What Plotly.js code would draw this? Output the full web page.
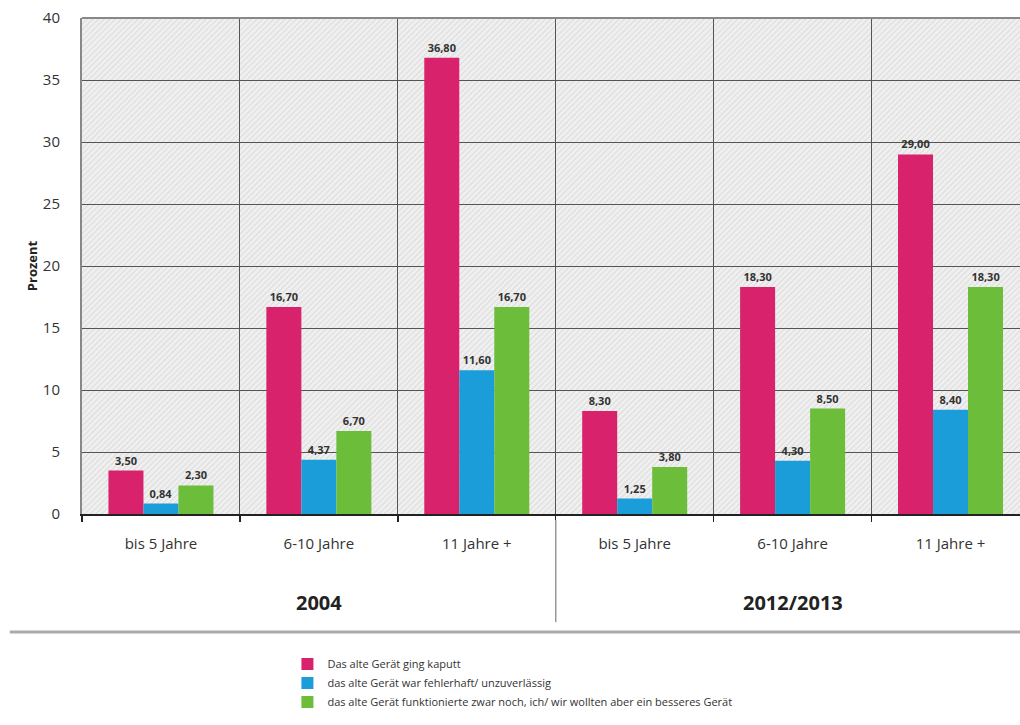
<!DOCTYPE html>
<html>
<head>
<meta charset="utf-8">
<script src="https://cdn.plot.ly/plotly-3.0.1.min.js"></script>
<style>html,body{margin:0;padding:0;background:#fff;overflow:hidden}#chart{width:1020px;height:725px}</style>
</head>
<body>
<div id="chart"></div>
<script>
// ---- data ----
const ageGroups = ['bis 5 Jahre', '6-10 Jahre', '11 Jahre +', 'bis 5 Jahre', '6-10 Jahre', '11 Jahre +'];
const years = ['2004', '2012/2013'];
const seriesNames = [
  'Das alte Gerät ging kaputt',
  'das alte Gerät war fehlerhaft/ unzuverlässig',
  'das alte Gerät funktionierte zwar noch, ich/ wir wollten aber ein besseres Gerät'
];
const kaputt     = [3.50, 16.70, 36.80, 8.30, 18.30, 29.00];
const fehlerhaft = [0.84, 4.37, 11.60, 1.25, 4.30, 8.40];
const besser     = [2.30, 6.70, 16.70, 3.80, 8.50, 18.30];
const yTicks = [0, 5, 10, 15, 20, 25, 30, 35, 40];

const colors = ['#d8236c', '#1b9dd9', '#6cbd3a'];
const font = '"Open Sans", "Noto Sans", sans-serif';
const xIdx = ageGroups.map((_, i) => i);
const fmt = v => v.toFixed(2).replace('.', ',');

const traces = [kaputt, fehlerhaft, besser].map((vals, k) => ({
  type: 'bar',
  name: seriesNames[k],
  x: xIdx,
  y: vals,
  marker: {color: colors[k], line: {width: 0}},
  text: vals.map(fmt),
  textposition: 'outside',
  textfont: {family: font, size: 11, color: '#333', weight: 'bold'},
  cliponaxis: false,
  hoverinfo: 'skip'
}));

const hatch = 'data:image/svg+xml;utf8,' + encodeURIComponent(
  '<svg xmlns="http://www.w3.org/2000/svg" width="938" height="496" viewBox="0 0 938 496" preserveAspectRatio="none">' +
  '<defs><pattern id="p" width="4" height="4" patternUnits="userSpaceOnUse" patternTransform="rotate(45)">' +
  '<rect width="4" height="4" fill="#efefef"/><line x1="0" y1="0" x2="0" y2="4" stroke="#d0d0d0" stroke-width="1.2"/></pattern></defs>' +
  '<rect width="938" height="496" fill="url(#p)"/></svg>');

const layout = {
  width: 1020, height: 725,
  margin: {l: 82, r: 0, t: 18, b: 211},
  paper_bgcolor: '#ffffff',
  plot_bgcolor: 'rgba(0,0,0,0)',
  font: {family: font, color: '#333'},
  barmode: 'group',
  bargap: 0.335,
  bargroupgap: 0,
  showlegend: true,
  legend: {
    x: 0.219, y: -0.273, xanchor: 'left', yanchor: 'top',
    orientation: 'v', font: {family: font, size: 11, color: '#333'},
    itemwidth: 30, tracegroupgap: 0, traceorder: 'normal'
  },
  xaxis: {
    range: [-0.5, 5.44],
    tickmode: 'array', tickvals: xIdx, ticktext: ageGroups,
    tickfont: {family: font, size: 15, color: '#333'},
    ticks: 'outside', ticklen: 15, tickcolor: 'rgba(0,0,0,0)',
    showgrid: false, zeroline: false,
    showline: true, linecolor: '#222', linewidth: 2,
    minor: {tick0: -0.5, dtick: 1, showgrid: true, gridcolor: '#555', gridwidth: 1,
            ticks: 'outside', ticklen: 6, tickcolor: '#222', tickwidth: 1.5},
    fixedrange: true
  },
  yaxis: {
    range: [0, 40],
    tickmode: 'array', tickvals: yTicks,
    tickfont: {family: font, size: 15, color: '#333'},
    showgrid: true, gridcolor: '#555', gridwidth: 1,
    zeroline: false,
    showline: true, linecolor: '#888', linewidth: 2,
    ticks: '', ticklabelstandoff: 17,
    title: {text: 'Prozent', font: {family: font, size: 13, color: '#222', weight: 'bold'}, standoff: 2},
    fixedrange: true
  },
  images: [{
    source: hatch, xref: 'paper', yref: 'paper', x: 0, y: 1, sizex: 1, sizey: 1,
    sizing: 'stretch', layer: 'below', xanchor: 'left', yanchor: 'top'
  }],
  shapes: [
    {type: 'line', xref: 'paper', yref: 'paper', x0: 0, x1: 1, y0: 1, y1: 1, line: {color: '#888', width: 2}},
    {type: 'line', xref: 'x', yref: 'paper', x0: 2.5, x1: 2.5, y0: -0.012, y1: -0.218, line: {color: '#999', width: 1.5}},
    {type: 'line', xref: 'paper', yref: 'paper', x0: -0.077, x1: 1, y0: -0.238, y1: -0.238, line: {color: '#aaa', width: 3}}
  ],
  annotations: [
    {xref: 'x', yref: 'paper', x: 1, y: -0.179, yanchor: 'middle', text: years[0], showarrow: false,
     font: {family: font, size: 20, color: '#222', weight: 'bold'}},
    {xref: 'x', yref: 'paper', x: 4, y: -0.179, yanchor: 'middle', text: years[1], showarrow: false,
     font: {family: font, size: 20, color: '#222', weight: 'bold'}}
  ]
};

Plotly.newPlot('chart', traces, layout, {displayModeBar: false, staticPlot: true});
</script>
</body>
</html>
